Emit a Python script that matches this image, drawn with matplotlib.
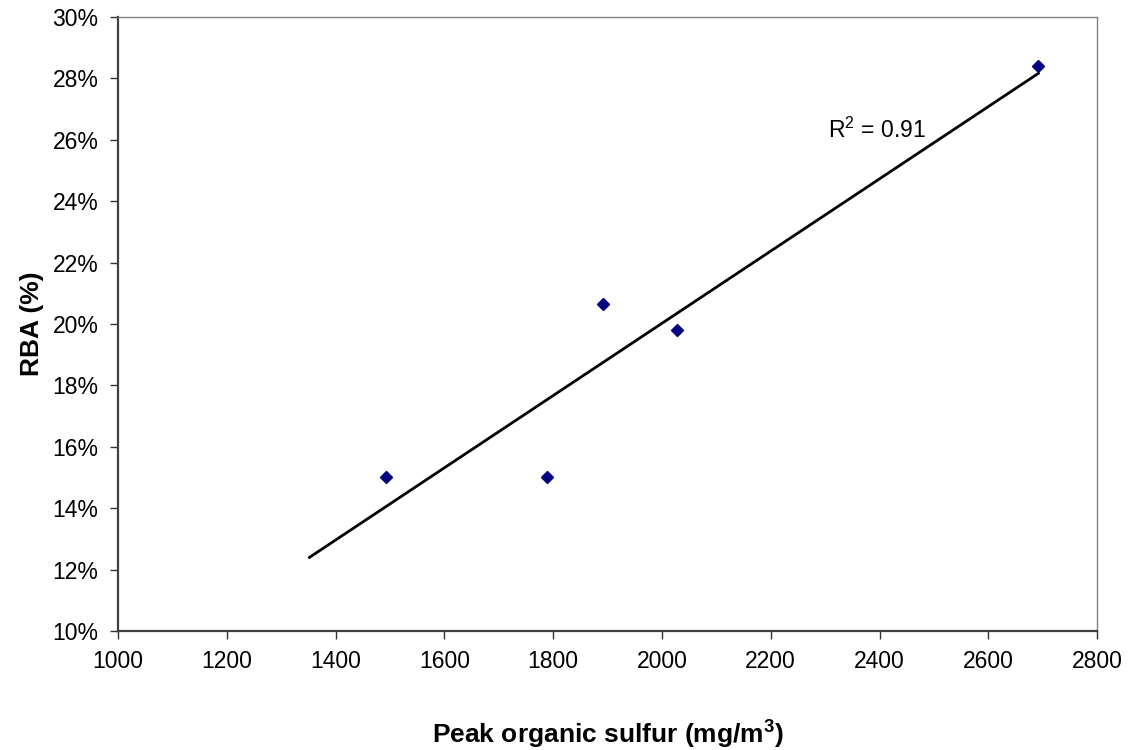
import numpy as np
import matplotlib.pyplot as plt
from matplotlib.ticker import FuncFormatter

plt.rcParams['font.family'] = ['Liberation Sans', 'DejaVu Sans']
plt.rcParams['mathtext.fontset'] = 'custom'
plt.rcParams['mathtext.rm'] = 'Liberation Sans'
plt.rcParams['mathtext.bf'] = 'Liberation Sans:bold'

# data
sulfur = [1493, 1788, 1892, 2028, 2692]     # mg/m3
rba = [15.0, 15.0, 20.65, 19.8, 28.4]        # %
trend_start = 1352                            # trendline backward forecast

# linear fit
slope, icpt = np.polyfit(sulfur, rba, 1)
r2 = np.corrcoef(sulfur, rba)[0, 1] ** 2
xt = np.array([trend_start, max(sulfur)])
yt = slope * xt + icpt

fig = plt.figure(figsize=(11.28, 7.5), dpi=100)
ax = fig.add_axes([0.1046, 0.1587, 0.868, 0.8186])

ax.plot(xt, yt, color='black', linewidth=2.0, zorder=2)
ax.plot(sulfur, rba, linestyle='none', marker='D', markersize=6.5,
        color='#000080', zorder=3)

ax.text(2305, 26.3, 'R$^2$ = %.2f' % r2, fontsize=16.5, va='center', ha='left')

ax.set_xlim(1000, 2800)
ax.set_ylim(10, 30)
ax.set_xticks(np.arange(1000, 2801, 200))
ax.set_yticks(np.arange(10, 31, 2))
ax.yaxis.set_major_formatter(FuncFormatter(lambda v, p: '%d%%' % v))

ax.tick_params(axis='both', labelsize=16.5, direction='out', length=6,
               width=1, color='#333333')
ax.tick_params(axis='x', pad=8)
ax.tick_params(axis='y', pad=8)

for s in ['top', 'right']:
    ax.spines[s].set_color('#808080')
    ax.spines[s].set_linewidth(1.0)
for s in ['left', 'bottom']:
    ax.spines[s].set_color('#404040')
    ax.spines[s].set_linewidth(1.6)

ax.set_xlabel('Peak organic sulfur (mg/m$\\mathbf{^3}$)', fontsize=19,
              fontweight='bold', labelpad=33)
ax.set_ylabel('RBA (%)', fontsize=19, fontweight='bold', labelpad=6)

plt.savefig('out.png', dpi=100)
